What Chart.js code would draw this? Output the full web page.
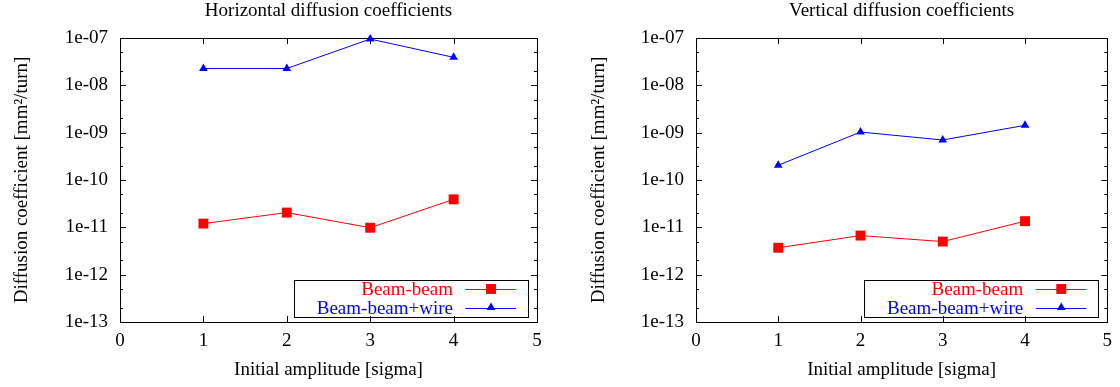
<!DOCTYPE html>
<html>
<head>
<meta charset="utf-8">
<script src="https://cdn.jsdelivr.net/npm/chart.js@4"></script>
<style>
  html, body { margin: 0; padding: 0; background: #fff; }
  .row { display: flex; width: 1120px; height: 387px; }
  .panel { width: 560px; height: 387px; }
</style>
</head>
<body>
<div class="row">
  <div class="panel"><canvas id="horiz" width="560" height="387"></canvas></div>
  <div class="panel"><canvas id="vert" width="560" height="387"></canvas></div>
</div>
<script>
// data
const amplitudes = [1, 2, 3, 4];
const seriesNames = ['Beam-beam', 'Beam-beam+wire'];
const horizBeamBeam = [1.2e-11, 2.05e-11, 9.8e-12, 3.9e-11];
const horizBeamWire = [2.27e-8, 2.27e-8, 9.5e-8, 3.9e-8];
const vertBeamBeam = [3.7e-12, 6.7e-12, 5.0e-12, 1.35e-11];
const vertBeamWire = [2.05e-10, 1.03e-9, 7.0e-10, 1.43e-9];
const xTicks = [0, 1, 2, 3, 4, 5];
const yTicks = [1e-13, 1e-12, 1e-11, 1e-10, 1e-9, 1e-8, 1e-7];
const yMinorMantissas = [2, 5];

const FONT = '"Liberation Serif", "Times New Roman", serif';
const FSIZE = 19;

function fmtExp(v) {
  const e = Math.round(Math.log10(v));
  return '1e' + (e < 0 ? '-' : '+') + String(Math.abs(e)).padStart(2, '0');
}

// border box + inward ticks, gnuplot style
const frameTicks = {
  id: 'frameTicks',
  beforeDatasetsDraw(chart) {
    const ctx = chart.ctx, a = chart.chartArea;
    const x = chart.scales.x, y = chart.scales.y;
    ctx.save();
    ctx.strokeStyle = '#000';
    ctx.lineWidth = 1;
    ctx.beginPath();
    yTicks.forEach(v => {
      const py = Math.round(y.getPixelForValue(v)) + 0.5;
      ctx.moveTo(a.left, py); ctx.lineTo(a.left + 6, py);
      ctx.moveTo(a.right, py); ctx.lineTo(a.right - 6, py);
      if (v < 1e-7) {
        yMinorMantissas.forEach(m => {
          const my = Math.round(y.getPixelForValue(v * m)) + 0.5;
          ctx.moveTo(a.left, my); ctx.lineTo(a.left + 3, my);
          ctx.moveTo(a.right, my); ctx.lineTo(a.right - 3, my);
        });
      }
    });
    xTicks.forEach(v => {
      const px = Math.round(x.getPixelForValue(v)) + 0.5;
      ctx.moveTo(px, a.bottom); ctx.lineTo(px, a.bottom - 6);
      ctx.moveTo(px, a.top); ctx.lineTo(px, a.top + 6);
    });
    ctx.stroke();
    ctx.strokeRect(Math.round(a.left) + 0.5, Math.round(a.top) + 0.5,
      Math.round(a.right - a.left), Math.round(a.bottom - a.top));
    ctx.restore();
  }
};

// key box in the lower right corner, text right-aligned before the sample
const keyBox = {
  id: 'keyBox',
  afterDatasetsDraw(chart) {
    const ctx = chart.ctx, a = chart.chartArea;
    const boxR = a.right - 9, boxW = 234, boxH = 37;
    const boxB = a.bottom - 5.5, boxT = boxB - boxH;
    ctx.save();
    ctx.strokeStyle = '#000';
    ctx.lineWidth = 1;
    ctx.strokeRect(Math.round(boxR - boxW) + 0.5, Math.round(boxT) + 0.5, boxW, boxH);
    ctx.font = FSIZE + 'px ' + FONT;
    ctx.textAlign = 'right';
    ctx.textBaseline = 'middle';
    chart.data.datasets.forEach((ds, i) => {
      const yy = boxT + 9.5 + i * 18.6;
      ctx.fillStyle = ds.borderColor;
      ctx.fillText(ds.label, boxR - 75, yy + 1);
      ctx.strokeStyle = ds.borderColor;
      ctx.beginPath();
      ctx.moveTo(boxR - 62.5, Math.round(yy) + 0.5);
      ctx.lineTo(boxR - 12, Math.round(yy) + 0.5);
      ctx.stroke();
      ctx.fillStyle = ds.pointBackgroundColor;
      Chart.helpers.drawPoint(ctx, {
        pointStyle: ds.pointStyle, radius: ds.pointRadius, rotation: 0, borderWidth: 0
      }, boxR - 37, yy);
    });
    ctx.restore();
  }
};

function makeChart(id, title, beamBeam, beamWire, yAxisWidth, yTitlePad, rightPad) {
  const ctx = document.getElementById(id).getContext('2d');
  return new Chart(ctx, {
    type: 'line',
    data: {
      datasets: [{
        label: seriesNames[0],
        data: amplitudes.map((a, i) => ({ x: a, y: beamBeam[i] })),
        borderColor: '#ff0000',
        backgroundColor: '#ff0000',
        pointBackgroundColor: '#ff0000',
        pointStyle: 'rect',
        pointRadius: 7,
        pointBorderWidth: 0,
        borderWidth: 1,
        clip: false
      }, {
        label: seriesNames[1],
        data: amplitudes.map((a, i) => ({ x: a, y: beamWire[i] })),
        borderColor: '#0000ff',
        backgroundColor: '#0000ff',
        pointBackgroundColor: '#0000ff',
        pointStyle: 'triangle',
        pointRadius: 5,
        pointBorderWidth: 0,
        borderWidth: 1,
        clip: false
      }]
    },
    options: {
      responsive: false,
      animation: false,
      devicePixelRatio: 1,
      layout: { padding: { left: 0, right: rightPad, top: 0, bottom: 0 } },
      plugins: {
        legend: { display: false },
        tooltip: { enabled: false },
        title: {
          display: true,
          fullSize: false,
          text: title,
          color: '#000',
          font: { family: FONT, size: FSIZE, weight: 'normal', lineHeight: 1 },
          padding: { top: 2, bottom: 17 }
        }
      },
      scales: {
        x: {
          type: 'linear',
          min: 0,
          max: 5,
          afterBuildTicks: s => { s.ticks = xTicks.map(v => ({ value: v })); },
          afterFit: s => { s.height = 65; },
          grid: { display: false, drawTicks: false },
          border: { display: false },
          ticks: {
            color: '#000',
            padding: 8,
            maxRotation: 0,
            font: { family: FONT, size: FSIZE },
            callback: v => String(v)
          },
          title: {
            display: true,
            text: 'Initial amplitude [sigma]',
            color: '#000',
            font: { family: FONT, size: FSIZE, lineHeight: 1 },
            padding: { top: 0, bottom: 7.5 }
          }
        },
        y: {
          type: 'logarithmic',
          min: 1e-13,
          max: 1e-7,
          afterBuildTicks: s => { s.ticks = yTicks.map(v => ({ value: v })); },
          afterFit: s => { s.width = yAxisWidth; },
          grid: { display: false, drawTicks: false },
          border: { display: false },
          ticks: {
            color: '#000',
            padding: 12,
            font: { family: FONT, size: FSIZE },
            callback: v => fmtExp(v)
          },
          title: {
            display: true,
            text: 'Diffusion coefficient [mm\u00b2/turn]',
            color: '#000',
            font: { family: FONT, size: FSIZE, lineHeight: 1 },
            padding: { top: yTitlePad, bottom: 0 }
          }
        }
      }
    },
    plugins: [frameTicks, keyBox]
  });
}

makeChart('horiz', 'Horizontal diffusion coefficients', horizBeamBeam, horizBeamWire, 120, 12.5, 23);
makeChart('vert', 'Vertical diffusion coefficients', vertBeamBeam, vertBeamWire, 136, 30, 8);
</script>
</body>
</html>
